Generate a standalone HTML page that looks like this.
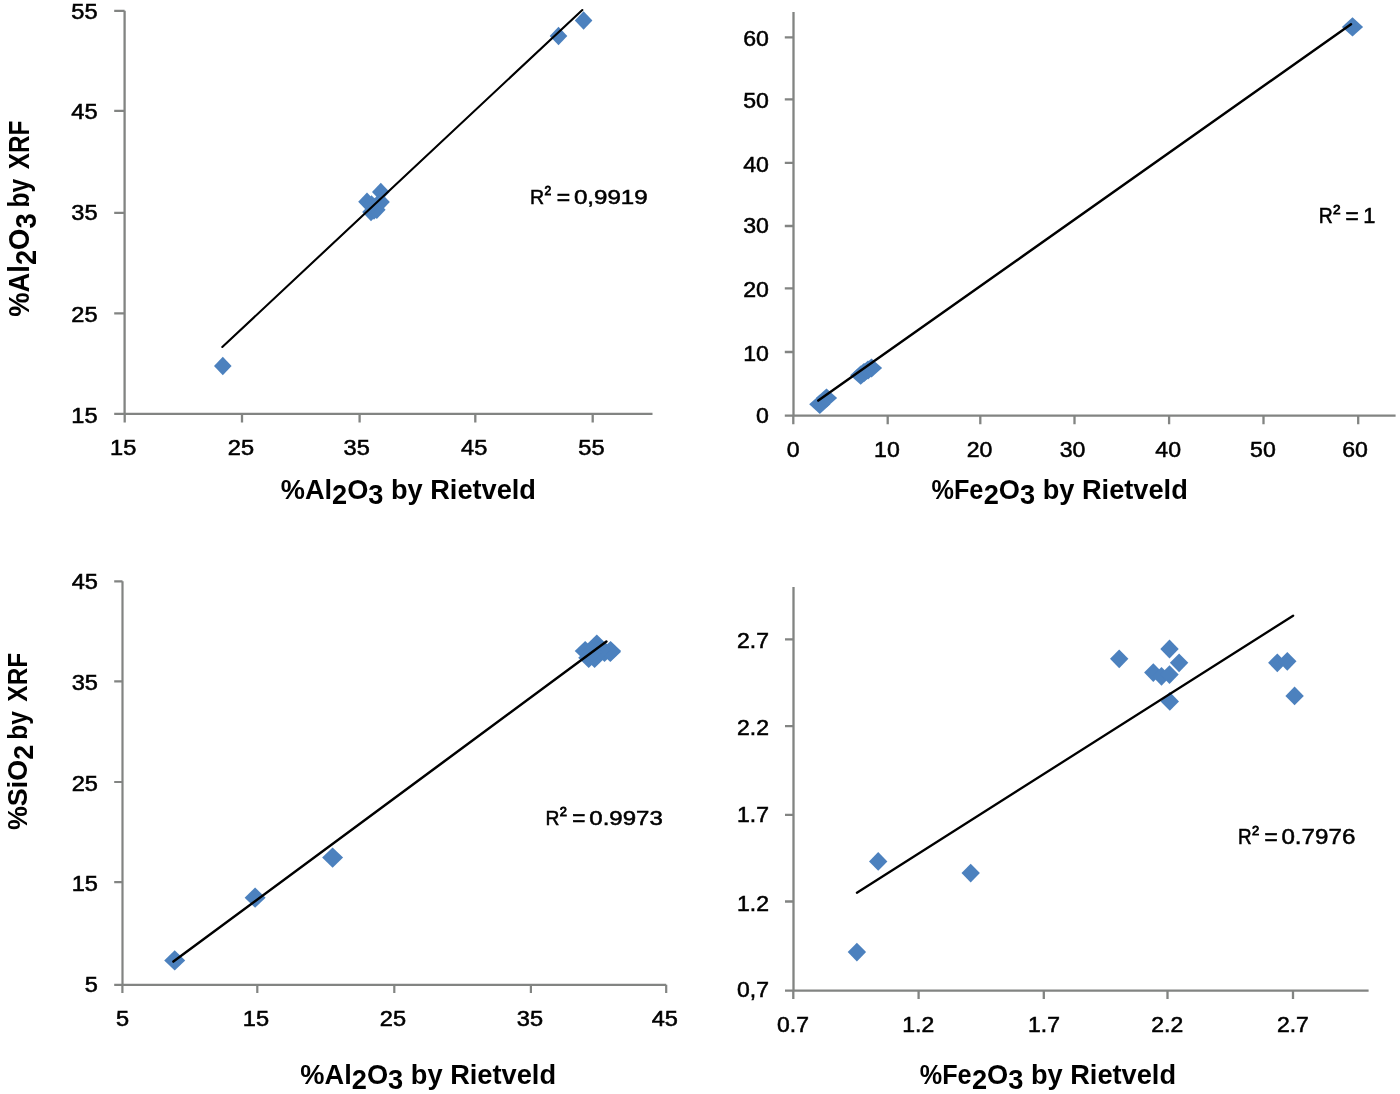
<!DOCTYPE html>
<html lang="en"><head><meta charset="utf-8"><title>XRF vs Rietveld</title>
<style>html,body{margin:0;padding:0;background:#fff}svg{display:block}</style></head>
<body>
<svg width="1400" height="1094" viewBox="0 0 1400 1094" font-family="'Liberation Sans', sans-serif">
<rect width="1400" height="1094" fill="#fff"/>
<path d="M124.6 10.8V413.9H652.5M124.7 413.9v8.7M242 413.9v8.7M359.6 413.9v8.7M475.3 413.9v8.7M592.7 413.9v8.7M124.6 10.8h-10.4M124.6 110.8h-10.4M124.6 212.9h-10.4M124.6 313.3h-10.4M124.6 413.9h-10.4" fill="none" stroke="#828482" stroke-width="2.3"/>
<g fill="#4c81be">
<path d="M222.8 356.7l8.8 9.3l-8.8 9.3l-8.8 -9.3z"/>
<path d="M583.6 11.2l8.8 9.3l-8.8 9.3l-8.8 -9.3z"/>
<path d="M558.5 26.7l8.8 9.3l-8.8 9.3l-8.8 -9.3z"/>
<path d="M380.8 182.7l8.8 9.3l-8.8 9.3l-8.8 -9.3z"/>
<path d="M367 192.4l8.8 9.3l-8.8 9.3l-8.8 -9.3z"/>
<path d="M381 192.7l8.8 9.3l-8.8 9.3l-8.8 -9.3z"/>
<path d="M371 202.7l8.8 9.3l-8.8 9.3l-8.8 -9.3z"/>
<path d="M375 197.7l8.8 9.3l-8.8 9.3l-8.8 -9.3z"/>
<path d="M378 194.7l8.8 9.3l-8.8 9.3l-8.8 -9.3z"/>
<path d="M376.8 200.4l8.8 9.3l-8.8 9.3l-8.8 -9.3z"/>
<path d="M374 201.2l8.8 9.3l-8.8 9.3l-8.8 -9.3z"/>
<path d="M371.5 195.3l8.8 9.3l-8.8 9.3l-8.8 -9.3z"/>
</g>
<path d="M222.3 347L582.3 10" stroke="#000" stroke-width="2.1" fill="none" stroke-linecap="round"/>
<text transform="matrix(1.18 0 0 1.06 71.35 19.4)" font-size="20" stroke="#000" stroke-width=".5" fill="#000">55</text>
<text transform="matrix(1.18 0 0 1.06 71.35 119.4)" font-size="20" stroke="#000" stroke-width=".5" fill="#000">45</text>
<text transform="matrix(1.18 0 0 1.06 71.35 220.3)" font-size="20" stroke="#000" stroke-width=".5" fill="#000">35</text>
<text transform="matrix(1.18 0 0 1.06 71.35 321.9)" font-size="20" stroke="#000" stroke-width=".5" fill="#000">25</text>
<text transform="matrix(1.18 0 0 1.06 71.35 422.6)" font-size="20" stroke="#000" stroke-width=".5" fill="#000">15</text>
<text transform="matrix(1.18 0 0 1.06 110.09 455.2)" font-size="20" stroke="#000" stroke-width=".5" fill="#000">15</text>
<text transform="matrix(1.18 0 0 1.06 227.78 455.2)" font-size="20" stroke="#000" stroke-width=".5" fill="#000">25</text>
<text transform="matrix(1.18 0 0 1.06 343.53 455.2)" font-size="20" stroke="#000" stroke-width=".5" fill="#000">35</text>
<text transform="matrix(1.18 0 0 1.06 461.11 455.2)" font-size="20" stroke="#000" stroke-width=".5" fill="#000">45</text>
<text transform="matrix(1.18 0 0 1.06 578.3 455.2)" font-size="20" stroke="#000" stroke-width=".5" fill="#000">55</text>
<text transform="matrix(0.9789 0 0 1.0400 530.08 204)" font-size="20" stroke="#000" stroke-width=".5">R</text>
<text transform="matrix(0.6044 0 0 0.6380 544.5 194.5)" font-size="20" stroke="#000" stroke-width="1.3">2</text>
<text transform="matrix(1.1443 0 0 1.1440 556.76 204.68)" font-size="20" stroke="#000" stroke-width=".6">=</text>
<text transform="matrix(1.2061 0 0 1.0394 573.94 204)" font-size="20" stroke="#000" stroke-width=".5">0,9919</text>
<text transform="matrix(1.0070 0 0 1 280.72 499)" font-size="27" font-weight="bold" xml:space="preserve">%Al<tspan dy="5.2">2</tspan><tspan dy="-5.2">O</tspan><tspan dy="5.2">3</tspan><tspan dy="-5.2"> by Rietveld</tspan></text>
<text transform="translate(29 316.78) rotate(-90) scale(1.0130 1.07)" font-size="27" font-weight="bold" xml:space="preserve">%Al<tspan dy="6.2">2</tspan><tspan dy="-6.2">O</tspan><tspan dy="6.2">3</tspan></text>
<text transform="translate(29 207.6) rotate(-90) scale(0.9099 1.07)" font-size="27" font-weight="bold" xml:space="preserve">by</text>
<text transform="translate(29 169.14) rotate(-90) scale(0.8980 1.07)" font-size="27" font-weight="bold" xml:space="preserve">XRF</text>
<path d="M793.5 12.1V415.6H1395.6M793.3 415.6v8.7M887.7 415.6v8.7M980.3 415.6v8.7M1074.5 415.6v8.7M1169.1 415.6v8.7M1263.5 415.6v8.7M1358.2 415.6v8.7M793.5 37.3h-8.7M793.5 99.4h-8.7M793.5 162.8h-8.7M793.5 226h-8.7M793.5 288.3h-8.7M793.5 352h-8.7M793.5 415.6h-8.7" fill="none" stroke="#828482" stroke-width="2.3"/>
<g fill="#4c81be">
<path d="M1352.5 17.3l10.6 9.6l-10.6 9.6l-10.6 -9.6z"/>
<path d="M819.8 394.7l10.6 9.6l-10.6 9.6l-10.6 -9.6z"/>
<path d="M826.5 388.4l10.6 9.6l-10.6 9.6l-10.6 -9.6z"/>
<path d="M860.7 365.6l10.6 9.6l-10.6 9.6l-10.6 -9.6z"/>
<path d="M864 362.9l10.6 9.6l-10.6 9.6l-10.6 -9.6z"/>
<path d="M868 360.4l10.6 9.6l-10.6 9.6l-10.6 -9.6z"/>
<path d="M871.5 358.4l10.6 9.6l-10.6 9.6l-10.6 -9.6z"/>
</g>
<path d="M818.3 400.6L1351 24.2" stroke="#000" stroke-width="2.5" fill="none" stroke-linecap="round"/>
<text transform="matrix(1.1 0 0 1.03 743.23 46.2)" font-size="21" stroke="#000" stroke-width=".5" fill="#000">60</text>
<text transform="matrix(1.1 0 0 1.03 743.23 108.3)" font-size="21" stroke="#000" stroke-width=".5" fill="#000">50</text>
<text transform="matrix(1.1 0 0 1.03 743.23 171.5)" font-size="21" stroke="#000" stroke-width=".5" fill="#000">40</text>
<text transform="matrix(1.1 0 0 1.03 743.23 233.4)" font-size="21" stroke="#000" stroke-width=".5" fill="#000">30</text>
<text transform="matrix(1.1 0 0 1.03 743.23 297)" font-size="21" stroke="#000" stroke-width=".5" fill="#000">20</text>
<text transform="matrix(1.1 0 0 1.03 743.23 361)" font-size="21" stroke="#000" stroke-width=".5" fill="#000">10</text>
<text transform="matrix(1.1 0 0 1.03 756.05 422.5)" font-size="21" stroke="#000" stroke-width=".5" fill="#000">0</text>
<text transform="matrix(1.1 0 0 1.03 786.76 457.2)" font-size="21" stroke="#000" stroke-width=".5" fill="#000">0</text>
<text transform="matrix(1.1 0 0 1.03 874.05 457.2)" font-size="21" stroke="#000" stroke-width=".5" fill="#000">10</text>
<text transform="matrix(1.1 0 0 1.03 966.74 457.2)" font-size="21" stroke="#000" stroke-width=".5" fill="#000">20</text>
<text transform="matrix(1.1 0 0 1.03 1059.68 457.2)" font-size="21" stroke="#000" stroke-width=".5" fill="#000">30</text>
<text transform="matrix(1.1 0 0 1.03 1155.35 457.2)" font-size="21" stroke="#000" stroke-width=".5" fill="#000">40</text>
<text transform="matrix(1.1 0 0 1.03 1250.05 457.2)" font-size="21" stroke="#000" stroke-width=".5" fill="#000">50</text>
<text transform="matrix(1.1 0 0 1.03 1342.24 457.2)" font-size="21" stroke="#000" stroke-width=".5" fill="#000">60</text>
<text transform="matrix(0.9345 0 0 1 931.47 499)" font-size="27" font-weight="bold" xml:space="preserve">%Fe</text>
<text transform="matrix(1.0081 0 0 1 983.65 499)" font-size="27" font-weight="bold" xml:space="preserve"><tspan dy="5.2">2</tspan><tspan dy="-5.2">O</tspan><tspan dy="5.2">3</tspan><tspan dy="-5.2"> by Rietveld</tspan></text>
<text transform="matrix(0.9705 0 0 1.0618 1318.7 223.3)" font-size="20" stroke="#000" stroke-width=".5">R</text>
<text transform="matrix(0.6813 0 0 0.6165 1332.92 213.8)" font-size="20" stroke="#000" stroke-width="1.3">2</text>
<text transform="matrix(1.1237 0 0 1.1680 1345.58 224)" font-size="20" stroke="#000" stroke-width=".6">=</text>
<text transform="matrix(1.0867 0 0 1.0764 1363.27 223.3)" font-size="20" stroke="#000" stroke-width=".5">1</text>
<path d="M122.5 581.3V984.8H666.2M122.4 984.8v8.3M257.3 984.8v8.3M394.3 984.8v8.3M530.9 984.8v8.3M666.2 984.8v8.3M122.5 581.3h-8.3M122.5 681.3h-8.3M122.5 782h-8.3M122.5 882.2h-8.3M122.5 984.8h-8.3" fill="none" stroke="#828482" stroke-width="2.2"/>
<g fill="#4c81be">
<path d="M174.7 950.3l10.5 10.1l-10.5 10.1l-10.5 -10.1z"/>
<path d="M255.1 887.6l10.5 10.1l-10.5 10.1l-10.5 -10.1z"/>
<path d="M332.6 847.5l10.5 10.1l-10.5 10.1l-10.5 -10.1z"/>
<path d="M585.2 640.9l10.5 10.1l-10.5 10.1l-10.5 -10.1z"/>
<path d="M596.8 634.6l10.5 10.1l-10.5 10.1l-10.5 -10.1z"/>
<path d="M610.6 640.9l10.5 10.1l-10.5 10.1l-10.5 -10.1z"/>
<path d="M588.7 647.7l10.5 10.1l-10.5 10.1l-10.5 -10.1z"/>
<path d="M594.6 647.7l10.5 10.1l-10.5 10.1l-10.5 -10.1z"/>
<path d="M604.5 641.7l10.5 10.1l-10.5 10.1l-10.5 -10.1z"/>
<path d="M610.3 641.9l10.5 10.1l-10.5 10.1l-10.5 -10.1z"/>
<path d="M600 639.9l10.5 10.1l-10.5 10.1l-10.5 -10.1z"/>
<path d="M592 641.9l10.5 10.1l-10.5 10.1l-10.5 -10.1z"/>
</g>
<path d="M173.4 961.6L606.4 641.5" stroke="#000" stroke-width="2.5" fill="none" stroke-linecap="round"/>
<text transform="matrix(1.18 0 0 1.06 71.65 588.6)" font-size="20" stroke="#000" stroke-width=".5" fill="#000">45</text>
<text transform="matrix(1.18 0 0 1.06 71.65 690)" font-size="20" stroke="#000" stroke-width=".5" fill="#000">35</text>
<text transform="matrix(1.18 0 0 1.06 71.65 790.5)" font-size="20" stroke="#000" stroke-width=".5" fill="#000">25</text>
<text transform="matrix(1.18 0 0 1.06 71.65 891.3)" font-size="20" stroke="#000" stroke-width=".5" fill="#000">15</text>
<text transform="matrix(1.18 0 0 1.06 84.75 992)" font-size="20" stroke="#000" stroke-width=".5" fill="#000">5</text>
<text transform="matrix(1.18 0 0 1.06 115.95 1026.2)" font-size="20" stroke="#000" stroke-width=".5" fill="#000">5</text>
<text transform="matrix(1.18 0 0 1.06 242.79 1026.2)" font-size="20" stroke="#000" stroke-width=".5" fill="#000">15</text>
<text transform="matrix(1.18 0 0 1.06 379.78 1026.2)" font-size="20" stroke="#000" stroke-width=".5" fill="#000">25</text>
<text transform="matrix(1.18 0 0 1.06 516.83 1026.2)" font-size="20" stroke="#000" stroke-width=".5" fill="#000">35</text>
<text transform="matrix(1.18 0 0 1.06 651.71 1026.2)" font-size="20" stroke="#000" stroke-width=".5" fill="#000">45</text>
<text transform="matrix(1.0086 0 0 1 300.32 1083.5)" font-size="27" font-weight="bold" xml:space="preserve">%Al<tspan dy="5.2">2</tspan><tspan dy="-5.2">O</tspan><tspan dy="5.2">3</tspan><tspan dy="-5.2"> by Rietveld</tspan></text>
<text transform="translate(26.9 830.07) rotate(-90) scale(0.9958 1.03)" font-size="27" font-weight="bold" xml:space="preserve">%SiO<tspan dy="5.8">2</tspan></text>
<text transform="translate(26.9 739.69) rotate(-90) scale(0.9065 1.03)" font-size="27" font-weight="bold" xml:space="preserve">by</text>
<text transform="translate(26.9 701.64) rotate(-90) scale(0.9037 1.03)" font-size="27" font-weight="bold" xml:space="preserve">XRF</text>
<text transform="matrix(0.9620 0 0 1.0473 545.61 825.1)" font-size="20" stroke="#000" stroke-width=".5">R</text>
<text transform="matrix(0.6484 0 0 0.6380 559.85 815.5)" font-size="20" stroke="#000" stroke-width="1.3">2</text>
<text transform="matrix(1.1237 0 0 1.1520 572.28 825.79)" font-size="20" stroke="#000" stroke-width=".6">=</text>
<text transform="matrix(1.2017 0 0 1.0466 589.34 825.1)" font-size="20" stroke="#000" stroke-width=".5">0.9973</text>
<path d="M793.5 587V990.6H1368.6M793.3 990.6v8.5M918.6 990.6v8.5M1043.8 990.6v8.5M1167.5 990.6v8.5M1293 990.6v8.5M793.5 639.3h-8.5M793.5 726.2h-8.5M793.5 814.9h-8.5M793.5 901.5h-8.5M793.5 990.6h-8.5" fill="none" stroke="#828482" stroke-width="2.3"/>
<g fill="#4c81be">
<path d="M856.9 942.7l9.2 9.4l-9.2 9.4l-9.2 -9.4z"/>
<path d="M878.2 852l9.2 9.4l-9.2 9.4l-9.2 -9.4z"/>
<path d="M970.7 863.7l9.2 9.4l-9.2 9.4l-9.2 -9.4z"/>
<path d="M1119.2 649.4l9.2 9.4l-9.2 9.4l-9.2 -9.4z"/>
<path d="M1169.5 639.6l9.2 9.4l-9.2 9.4l-9.2 -9.4z"/>
<path d="M1179.1 653.4l9.2 9.4l-9.2 9.4l-9.2 -9.4z"/>
<path d="M1153.3 663.2l9.2 9.4l-9.2 9.4l-9.2 -9.4z"/>
<path d="M1161.5 666.9l9.2 9.4l-9.2 9.4l-9.2 -9.4z"/>
<path d="M1169.5 665.2l9.2 9.4l-9.2 9.4l-9.2 -9.4z"/>
<path d="M1169.8 692l9.2 9.4l-9.2 9.4l-9.2 -9.4z"/>
<path d="M1277.3 653.4l9.2 9.4l-9.2 9.4l-9.2 -9.4z"/>
<path d="M1287.3 651.9l9.2 9.4l-9.2 9.4l-9.2 -9.4z"/>
<path d="M1294.6 686.5l9.2 9.4l-9.2 9.4l-9.2 -9.4z"/>
</g>
<path d="M856.9 892.7L1293.1 615.7" stroke="#000" stroke-width="2.3" fill="none" stroke-linecap="round"/>
<text transform="matrix(1.12 0 0 1.04 737.03 648)" font-size="20.5" stroke="#000" stroke-width=".5" fill="#000">2.7</text>
<text transform="matrix(1.12 0 0 1.04 737.03 734.7)" font-size="20.5" stroke="#000" stroke-width=".5" fill="#000">2.2</text>
<text transform="matrix(1.12 0 0 1.04 737.03 821.8)" font-size="20.5" stroke="#000" stroke-width=".5" fill="#000">1.7</text>
<text transform="matrix(1.12 0 0 1.04 737.03 910.9)" font-size="20.5" stroke="#000" stroke-width=".5" fill="#000">1.2</text>
<text transform="matrix(1.12 0 0 1.04 737.03 996.9)" font-size="20.5" stroke="#000" stroke-width=".5" fill="#000">0,7</text>
<text transform="matrix(1.12 0 0 1.04 777.06 1032)" font-size="20.5" stroke="#000" stroke-width=".5" fill="#000">0.7</text>
<text transform="matrix(1.12 0 0 1.04 902.36 1032)" font-size="20.5" stroke="#000" stroke-width=".5" fill="#000">1.2</text>
<text transform="matrix(1.12 0 0 1.04 1028.06 1032)" font-size="20.5" stroke="#000" stroke-width=".5" fill="#000">1.7</text>
<text transform="matrix(1.12 0 0 1.04 1151.24 1032)" font-size="20.5" stroke="#000" stroke-width=".5" fill="#000">2.2</text>
<text transform="matrix(1.12 0 0 1.04 1276.94 1032)" font-size="20.5" stroke="#000" stroke-width=".5" fill="#000">2.7</text>
<text transform="matrix(0.9326 0 0 1 919.77 1083.5)" font-size="27" font-weight="bold" xml:space="preserve">%Fe</text>
<text transform="matrix(1.0076 0 0 1 971.95 1083.5)" font-size="27" font-weight="bold" xml:space="preserve"><tspan dy="5.2">2</tspan><tspan dy="-5.2">O</tspan><tspan dy="5.2">3</tspan><tspan dy="-5.2"> by Rietveld</tspan></text>
<text transform="matrix(0.9451 0 0 1.0618 1238.04 844.3)" font-size="20" stroke="#000" stroke-width=".5">R</text>
<text transform="matrix(0.6484 0 0 0.6093 1251.95 834.5)" font-size="20" stroke="#000" stroke-width="1.3">2</text>
<text transform="matrix(1.1237 0 0 1.1680 1264.58 845)" font-size="20" stroke="#000" stroke-width=".6">=</text>
<text transform="matrix(1.2084 0 0 1.0609 1281.43 844.3)" font-size="20" stroke="#000" stroke-width=".5">0.7976</text>
</svg>
</body></html>
